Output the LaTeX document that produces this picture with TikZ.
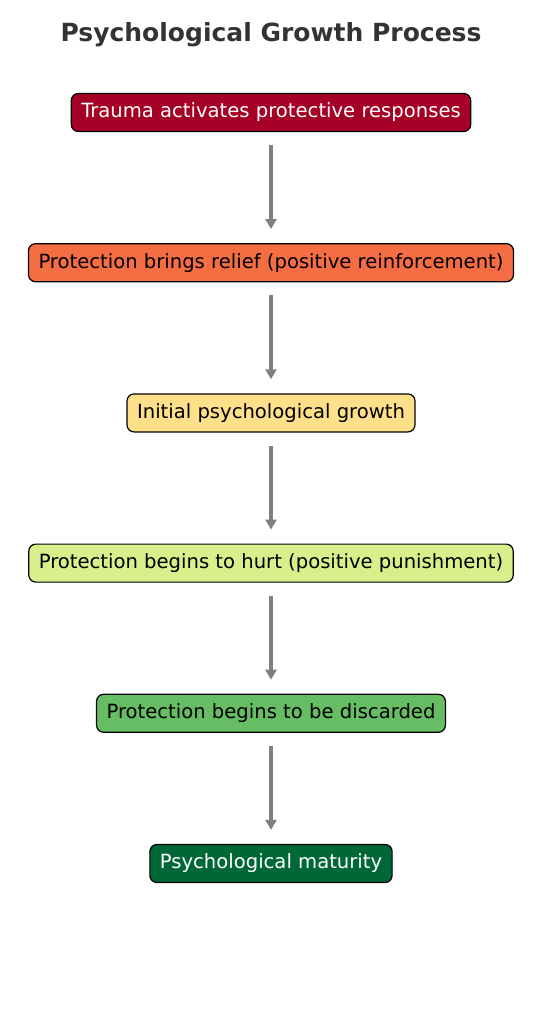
\documentclass[tikz,border=0pt]{standalone}
\usepackage{fontspec}
\setmainfont{DejaVu Sans}
\usetikzlibrary{arrows.meta,positioning}
\definecolor{cTrauma}{HTML}{A50026}
\definecolor{cRelief}{HTML}{F46D43}
\definecolor{cInit}{HTML}{FEE08B}
\definecolor{cHurt}{HTML}{D9EF8B}
\definecolor{cDisc}{HTML}{66BD63}
\definecolor{cMature}{HTML}{006837}
\definecolor{cArrow}{HTML}{808080}
\definecolor{cTitle}{HTML}{333333}
\tikzset{
  stage/.style={rounded corners=7pt, draw=black, line width=1.2pt, fill=#1,
                text=black, align=center, font=\fontsize{19.6}{22}\selectfont,
                inner xsep=10pt, minimum height=38pt},
  stagew/.style={stage=#1, text=white},
  flow/.style={-{Triangle[length=10pt,width=11pt]}, line width=3.8pt, draw=cArrow,
               shorten <=13pt, shorten >=14pt},
}
\begin{document}
\begin{tikzpicture}[x=1pt, y=1pt, node distance=111pt]
  \useasboundingbox (0,0) rectangle (542,-1024);
  % title
  \node[font=\fontsize{25}{28}\bfseries\selectfont, text=cTitle] (title) at (271,-35) {Psychological Growth Process};

  % stages
  \node[stagew=cTrauma] (trauma) at (271,-112.5) {Trauma activates protective responses};
  \node[stage=cRelief, below=of trauma] (relief) {Protection brings relief (positive reinforcement)};
  \node[stage=cInit, below=of relief] (init) {Initial psychological growth};
  \node[stage=cHurt, below=of init] (hurt) {Protection begins to hurt (positive punishment)};
  \node[stage=cDisc, below=of hurt] (discard) {Protection begins to be discarded};
  \node[stagew=cMature, below=of discard] (mature) {Psychological maturity};

  \draw[flow] (trauma) -- (relief);
  \draw[flow] (relief) -- (init);
  \draw[flow] (init) -- (hurt);
  \draw[flow] (hurt) -- (discard);
  \draw[flow] (discard) -- (mature);
\end{tikzpicture}
\end{document}
